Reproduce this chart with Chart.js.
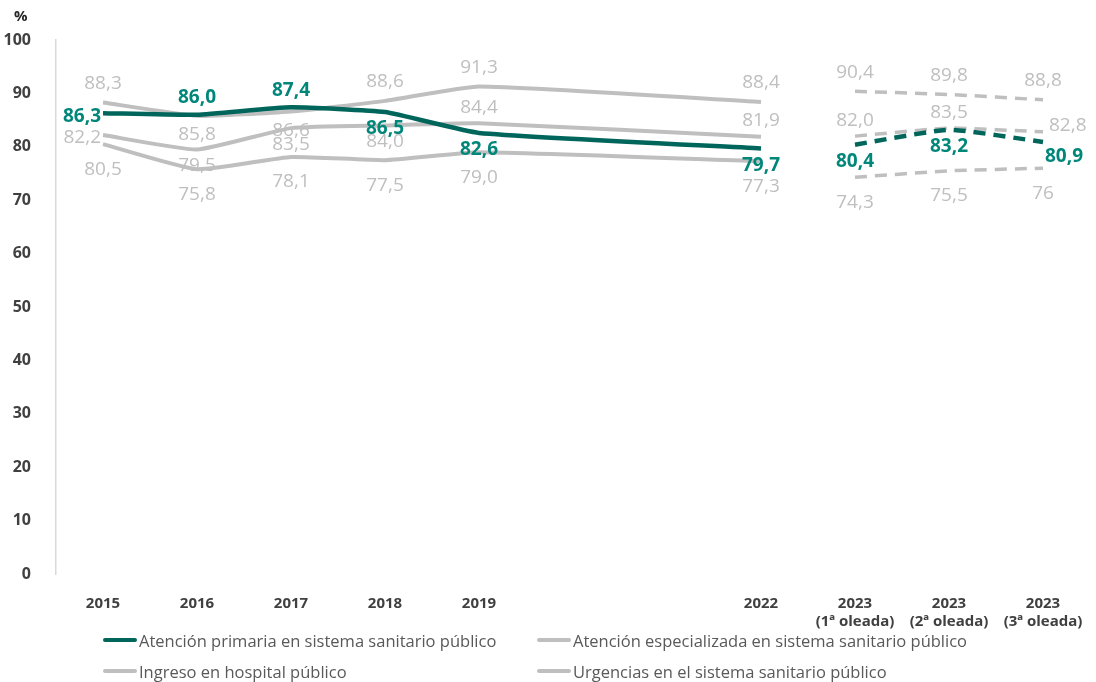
<!DOCTYPE html>
<html>
<head>
<meta charset="utf-8">
<script src="https://cdn.jsdelivr.net/npm/chart.js@4"></script>
<style>
  body { margin: 0; background: #fff; font-family: "Open Sans", sans-serif; }
  #wrap { position: relative; width: 1096px; height: 682px; }
  #box { position: absolute; left: 0; top: 0; width: 1096px; height: 630px; }
  #pct { position: absolute; left: 14px; top: 5px; font-weight: bold; font-size: 15px; color: #262626; }
  #leyenda { position: absolute; left: 103px; top: 628px; width: 990px;
    display: grid; grid-template-columns: 434px 450px; row-gap: 7px; }
  .item { display: flex; align-items: center; font-size: 16.5px; color: #595959; height: 24px; white-space: nowrap; }
  .item span.linea { display: inline-block; width: 34px; height: 4px; margin-right: 2px; border-radius: 2px; }
</style>
</head>
<body>
<div id="wrap">
  <div id="box"><canvas id="myChart"></canvas></div>
  <div id="pct">%</div>
  <div id="leyenda"></div>
</div>
<script>
const categorias = [['2015'], ['2016'], ['2017'], ['2018'], ['2019'], [''], [''], ['2022'],
  ['2023', '(1ª oleada)'], ['2023', '(2ª oleada)'], ['2023', '(3ª oleada)']];

const primaria      = [86.3, 86.0, 87.4, 86.5, 82.6, null, null, 79.7, 80.4, 83.2, 80.9];
const especializada = [82.2, 79.5, 83.5, 84.0, 84.4, null, null, 81.9, 82.0, 83.5, 82.8];
const ingreso       = [88.3, 85.8, 86.6, 88.6, 91.3, null, null, 88.4, 90.4, 89.8, 88.8];
const urgencias     = [80.5, 75.8, 78.1, 77.5, 79.0, null, null, 77.3, 74.3, 75.5, 76];

// donde va cada etiqueta
const posPrimaria      = ['left', 'top', 'top', 'bottom', 'bottom', null, null, 'bottom', 'bottom', 'bottom', 'rightbottom'];
const posEspecializada = ['left', 'bottom', 'bottom', 'bottom', 'top', null, null, 'top', 'top', 'top', 'right'];
const posIngreso       = ['top', 'bottom', 'bottom', 'top', 'top', null, null, 'top', 'top', 'top', 'top'];
const posUrgencias     = ['bottom', 'bottom', 'bottom', 'bottom', 'bottom', null, null, 'bottom', 'bottom', 'bottom', 'bottom'];
const enterosUrgencias = [10]; // "76" sale sin decimal

const TEAL = '#00665C';
const TEAL_TXT = '#00877A';
const GRIS = '#BFBFBF';
const ULTIMO_ANYO = 7; // indice de 2022

const series = [
  { nombre: 'Atención primaria en sistema sanitario público', datos: primaria, pos: posPrimaria, color: TEAL, txt: TEAL_TXT, negrita: true, dist: 17 },
  { nombre: 'Atención especializada en sistema sanitario público', datos: especializada, pos: posEspecializada, color: GRIS, txt: GRIS, dist: 16 },
  { nombre: 'Ingreso en hospital público', datos: ingreso, pos: posIngreso, color: GRIS, txt: GRIS, dist: 19 },
  { nombre: 'Urgencias en el sistema sanitario público', datos: urgencias, pos: posUrgencias, color: GRIS, txt: GRIS, dist: 25, enteros: enterosUrgencias }
];

let datasets = [];
series.forEach((s, k) => {
  let base = {
    borderColor: s.color, backgroundColor: s.color, pointRadius: 0, pointHoverRadius: 0,
    tension: 0.15, spanGaps: true, etiquetas: s.pos, txt: s.txt, negrita: s.negrita,
    dist: s.dist, enteros: s.enteros || [], order: k == 0 ? 0 : 1
  };
  datasets.push(Object.assign({}, base, {
    label: s.nombre, enLeyenda: true,
    borderWidth: k == 0 ? 4.5 : 4,
    data: s.datos.map((v, i) => i <= ULTIMO_ANYO ? v : null)
  }));
  datasets.push(Object.assign({}, base, {
    label: s.nombre + ' (2023)',
    borderWidth: k == 0 ? 4.5 : 3.5,
    borderDash: [12, 8],
    data: s.datos.map((v, i) => i > ULTIMO_ANYO ? v : null)
  }));
});

function formato(v, i, enteros) {
  if (enteros.includes(i)) return String(Math.round(v));
  return v.toFixed(1).replace('.', ',');
}

const etiquetas = {
  id: 'etiquetas',
  afterDatasetsDraw(chart) {
    const ctx = chart.ctx;
    ctx.save();
    chart.data.datasets.forEach((ds, d) => {
      const meta = chart.getDatasetMeta(d);
      ctx.fillStyle = ds.txt;
      ctx.font = (ds.negrita ? 'bold ' : '') + '19px "Open Sans"';
      meta.data.forEach((pt, i) => {
        const v = ds.data[i];
        const pos = ds.etiquetas[i];
        if (v == null || !pos) return;
        let x = pt.x, y = pt.y;
        ctx.textBaseline = 'middle';
        ctx.textAlign = 'center';
        if (pos == 'top') y -= ds.dist;
        else if (pos == 'bottom') y += ds.dist;
        else if (pos == 'left') { ctx.textAlign = 'right'; x -= 2; y += 3; }
        else if (pos == 'right') { ctx.textAlign = 'left'; x += 6; y -= 6; }
        else if (pos == 'rightbottom') { ctx.textAlign = 'left'; x += 2; y += 15; }
        ctx.fillText(formato(v, i, ds.enteros), x, y);
      });
    });
    ctx.restore();
  }
};

var ctx = document.getElementById('myChart').getContext('2d');
var myChart = new Chart(ctx, {
  type: 'line',
  data: { labels: categorias, datasets: datasets },
  plugins: [etiquetas],
  options: {
    responsive: true,
    maintainAspectRatio: false,
    animation: false,
    layout: { padding: { top: 40, right: 6, left: 0, bottom: 0 } },
    plugins: {
      legend: { display: false },
      tooltip: { enabled: false }
    },
    scales: {
      x: {
        offset: true,
        grid: { display: false },
        border: { display: false },
        ticks: {
          autoSkip: false, maxRotation: 0, padding: 12, color: '#404040',
          font: { family: 'Open Sans', size: 15, weight: 'bold', lineHeight: 1.25 }
        },
        afterFit: (s) => { s.height = 56; }
      },
      y: {
        min: 0, max: 100,
        grid: { display: false },
        border: { display: true, color: '#D9D9D9', width: 1.5 },
        ticks: {
          stepSize: 10, padding: 17, color: '#404040',
          font: { family: 'Open Sans', size: 16, weight: 'bold' }
        },
        afterFit: (s) => { s.width = 56; }
      }
    }
  }
});

// leyenda en html, dos columnas como el original
let ley = document.getElementById('leyenda');
datasets.filter(d => d.enLeyenda).forEach(d => {
  let it = document.createElement('div');
  it.className = 'item';
  it.innerHTML = '<span class="linea" style="background:' + d.borderColor + '"></span>' + d.label;
  ley.appendChild(it);
});
</script>
</body>
</html>
